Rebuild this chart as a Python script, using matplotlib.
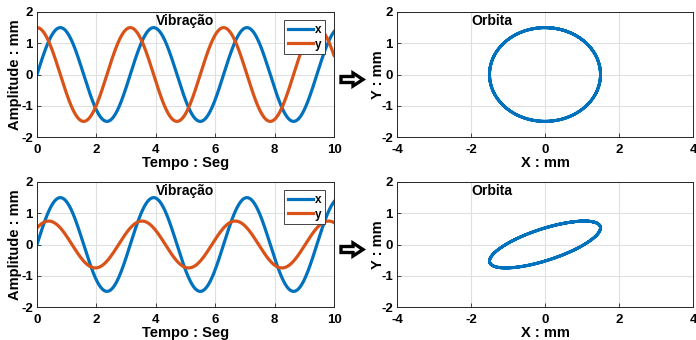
import numpy as np
import matplotlib
matplotlib.use("Agg")
import matplotlib.pyplot as plt
from matplotlib.patches import Polygon

# Signal parameters (amplitude, angular frequency, phase)
t_range = [0, 10]
omega = 2.0
x_amp = [1.5, 1.5]
x_phase = [0.0, 0.0]
y_amp = [1.5, 0.75]
y_phase = [np.pi / 2, np.pi / 4]

xticks_vib = [0, 2, 4, 6, 8, 10]
yticks = [-2, -1, 0, 1, 2]
xticks_orb = [-4, -2, 0, 2, 4]

blue = "#0072BD"
orange = "#D95319"

plt.rcParams['font.family'] = ['Liberation Sans', 'DejaVu Sans']
plt.rcParams['font.weight'] = 'bold'
plt.rcParams['axes.unicode_minus'] = False

fig = plt.figure(figsize=(6.96, 3.4), dpi=100)
W, H = 696, 340

def ax_at(x0, y0, x1, y1):
    return fig.add_axes([x0 / W, 1 - y1 / H, (x1 - x0) / W, (y1 - y0) / H])

def style(ax):
    ax.grid(True, color='#e0e0e0', linewidth=0.8)
    ax.set_axisbelow(True)
    for s in ax.spines.values():
        s.set_color('#262626')
        s.set_linewidth(0.7)
    ax.tick_params(direction='in', length=3, width=0.6, labelsize=9.5, colors='#262626')
    ax.tick_params(axis='x', pad=5)
    ax.tick_params(axis='y', pad=3)
    for lab in ax.get_xticklabels() + ax.get_yticklabels():
        lab.set_fontweight('bold')
        lab.set_color('black')

def draw_arrow(cx, cy):
    # outline arrow in pixel units
    pts = [(-11, -3), (1, -3), (1, -6.5), (11, 0), (1, 6.5), (1, 3), (-11, 3)]
    xy = [((cx + px) / W, 1 - (cy - py) / H) for px, py in pts]
    fig.patches.append(Polygon(xy, closed=True, transform=fig.transFigure,
                               facecolor='white', edgecolor='black', linewidth=2.4,
                               joinstyle='miter'))

t = np.linspace(t_range[0], t_range[1], 2000)
rows = [(12, 137), (182, 307)]
for i, (ytop, ybot) in enumerate(rows):
    x = x_amp[i] * np.sin(omega * t + x_phase[i])
    y = y_amp[i] * np.sin(omega * t + y_phase[i])
    hgt = ybot - ytop

    ax = ax_at(37, ytop, 334, ybot)
    ax.plot(t, x, color=blue, linewidth=2.3, label='x')
    ax.plot(t, y, color=orange, linewidth=2.3, label='y')
    ax.set_xlim(0, 10)
    ax.set_ylim(-2, 2)
    ax.set_xticks(xticks_vib)
    ax.set_yticks(yticks)
    style(ax)
    ax.set_xlabel('Tempo : Seg', fontsize=10.5, fontweight='bold')
    ax.set_ylabel('Amplitude : mm', fontsize=10.5, fontweight='bold')
    ax.xaxis.set_label_coords(0.5, -26 / hgt, transform=ax.transAxes)
    ax.xaxis.label.set_va('center')
    ax.yaxis.set_label_coords(-22 / 297, 0.5, transform=ax.transAxes)
    ax.yaxis.label.set_va('center')
    ax.text(0.5, 0.985, 'Vibração', transform=ax.transAxes, ha='center', va='top',
            fontsize=10, fontweight='bold')
    leg = ax.legend(loc='upper right', bbox_to_anchor=(0.97, 0.935), fontsize=8.5,
                    handlelength=2.1, handletextpad=0.2, borderpad=0.3,
                    labelspacing=0.25, fancybox=False, framealpha=1, borderaxespad=0)
    leg.get_frame().set_edgecolor('#262626')
    leg.get_frame().set_linewidth(0.6)
    for txt in leg.get_texts():
        txt.set_fontweight('bold')

    ax2 = ax_at(397, ytop, 693, ybot)
    ax2.plot(x, y, color=blue, linewidth=2.1)
    ax2.set_xlim(-4, 4)
    ax2.set_ylim(-2, 2)
    ax2.set_xticks(xticks_orb)
    ax2.set_yticks(yticks)
    style(ax2)
    ax2.set_xlabel('X : mm', fontsize=10.5, fontweight='bold')
    ax2.set_ylabel('Y : mm', fontsize=10.5, fontweight='bold')
    ax2.xaxis.set_label_coords(0.5, -26 / hgt, transform=ax2.transAxes)
    ax2.xaxis.label.set_va('center')
    ax2.yaxis.set_label_coords(-19 / 296, 0.5, transform=ax2.transAxes)
    ax2.yaxis.label.set_va('center')
    ax2.text(0.25, 0.985, 'Orbita', transform=ax2.transAxes, ha='left', va='top',
             fontsize=10, fontweight='bold')

    draw_arrow(352, (ytop + ybot) / 2 + 5)

fig.savefig('out.png', dpi=100)
